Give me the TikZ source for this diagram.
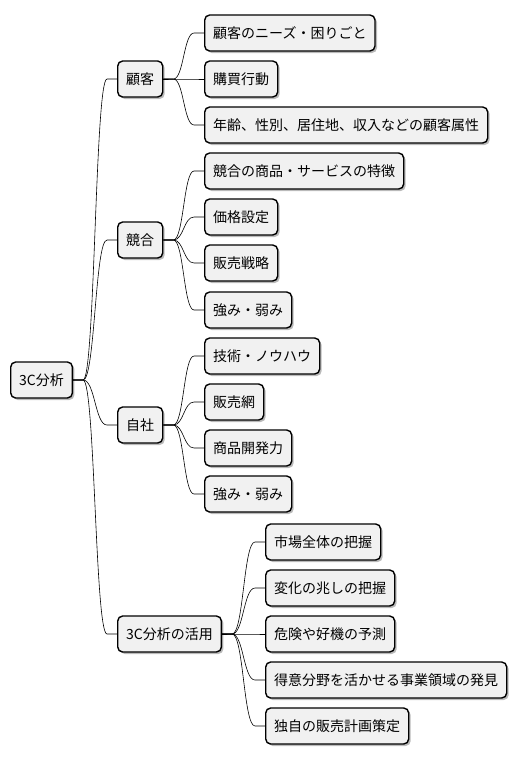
\documentclass[tikz,border=0pt]{standalone}
\usepackage{fontspec}
\setmainfont{Noto Sans CJK JP}
\usepackage{tikz}
\usetikzlibrary{calc,shadows}
\definecolor{boxfill}{HTML}{F1F1F1}
\tikzset{
  topic/.style={draw=black,fill=boxfill,line width=1.4pt,rounded corners=5pt,
                minimum height=36pt,inner xsep=8.5pt,inner ysep=0pt,anchor=west,
                font=\fontsize{14pt}{16pt}\selectfont,
                drop shadow={shadow xshift=2pt,shadow yshift=-2pt,fill=black!60,opacity=.45}},
  branch/.style={draw=black,line width=.6pt},
}
% curved connector from parent east to child west
\newcommand{\twig}[2]{%
  \path (#1.east) ++(10,0) coordinate (ta);
  \path (#2.west) ++(-10,0) coordinate (tb);
  \coordinate (tm) at ($(ta)!.5!(tb)$);
  \draw[branch] (#1.east) -- (ta) .. controls (tm |- ta) and (tm |- tb) .. (tb) -- (#2.west);}

\begin{document}
\begin{tikzpicture}[x=1pt,y=-1pt]
  \useasboundingbox (0,0) rectangle (520,761);
  % root
  \node[topic] (root) at (10,380) {3C分析};
  % first level
  \node[topic] (cust) at (117,79) {顧客};
  \node[topic] (comp) at (117,240) {競合};
  \node[topic] (self) at (117,425) {自社};
  \node[topic] (use) at (117,634) {3C分析の活用};
  % second level
  \node[topic] (cust1) at (204,33) {顧客のニーズ・困りごと};
  \node[topic] (cust2) at (204,79) {購買行動};
  \node[topic] (cust3) at (204,125) {年齢、性別、居住地、収入などの顧客属性};
  \node[topic] (comp1) at (204,171) {競合の商品・サービスの特徴};
  \node[topic] (comp2) at (204,217) {価格設定};
  \node[topic] (comp3) at (204,263) {販売戦略};
  \node[topic] (comp4) at (204,310) {強み・弱み};
  \node[topic] (self1) at (204,356) {技術・ノウハウ};
  \node[topic] (self2) at (204,402) {販売網};
  \node[topic] (self3) at (204,448) {商品開発力};
  \node[topic] (self4) at (204,494) {強み・弱み};
  \node[topic] (use1) at (265,542) {市場全体の把握};
  \node[topic] (use2) at (265,588) {変化の兆しの把握};
  \node[topic] (use3) at (265,634) {危険や好機の予測};
  \node[topic] (use4) at (265,680) {得意分野を活かせる事業領域の発見};
  \node[topic] (use5) at (265,726) {独自の販売計画策定};
  % connectors
  \foreach \p/\c in {root/cust,root/comp,root/self,root/use,
      cust/cust1,cust/cust2,cust/cust3,
      comp/comp1,comp/comp2,comp/comp3,comp/comp4,
      self/self1,self/self2,self/self3,self/self4,
      use/use1,use/use2,use/use3,use/use4,use/use5}{
    \twig{\p}{\c}}
\end{tikzpicture}
\end{document}
